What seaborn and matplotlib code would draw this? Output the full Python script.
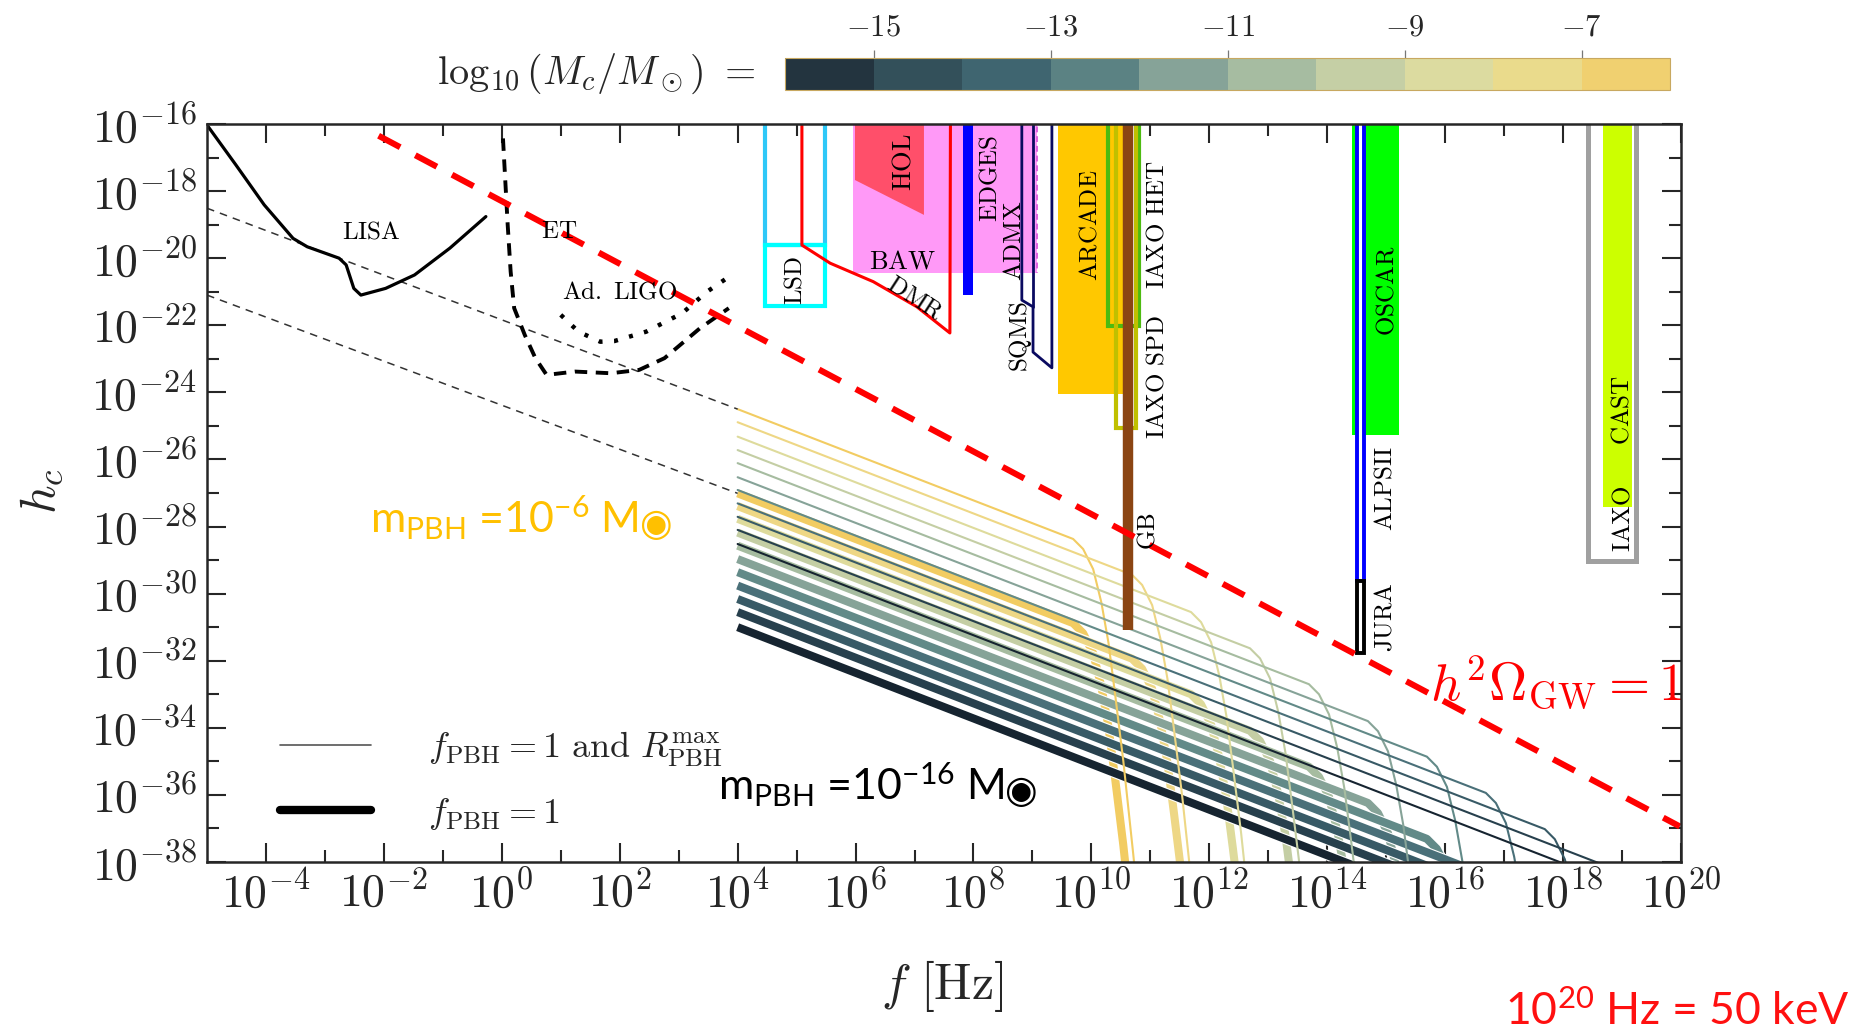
import numpy as np
import pandas as pd
import matplotlib
matplotlib.use("Agg")
import matplotlib.pyplot as plt
import matplotlib.patheffects as pe
import matplotlib.ticker as mticker
from matplotlib.patches import Polygon
from matplotlib.colors import ListedColormap, BoundaryNorm
from matplotlib.lines import Line2D
import seaborn as sns

# ---------------------------------------------------------------- data
# detector sensitivity curves, (log10 f [Hz], log10 h_c)
lisa_logf = [-5.0, -4.51, -4.03, -3.54, -3.30, -2.76, -2.64, -2.51, -2.39, -1.97, -1.48, -0.88, -0.27]
lisa_logh = [-16.03, -17.22, -18.41, -19.41, -19.66, -20.00, -20.20, -20.90, -21.10, -20.90, -20.50, -19.70, -18.76]

et_logf = [0.02, 0.06, 0.10, 0.15, 0.21, 0.39, 0.57, 0.76, 1.24, 1.85, 2.33, 2.76, 3.36, 3.85]
et_logh = [-16.43, -17.72, -19.01, -20.40, -21.49, -22.29, -22.98, -23.48, -23.38, -23.43, -23.33, -22.98, -22.09, -21.49]

ligo_logf = [1.00, 1.30, 1.67, 1.91, 2.45, 3.06, 3.48, 3.94]
ligo_logh = [-21.69, -22.19, -22.49, -22.47, -22.19, -21.64, -21.00, -20.45]

# low-frequency extension of the heaviest-mass spectra
ext_logf = [-5.0, 4.0]
ext_thin_logh = [-18.51, -24.50]
ext_thick_logh = [-21.10, -27.01]

# h^2 Omega_GW = 1
omega_logf = [-2.09, 19.98]
omega_logh = [-16.35, -36.94]

# PBH binary spectra, one per log10(m_PBH / M_sun)
log_mass = [-6, -7, -8, -9, -10, -11, -12, -13, -14, -15, -16]
start_logf = 4.0
thin_start_logh = [-24.50, -24.89, -25.32, -25.72, -26.11, -26.53, -26.91, -27.31, -27.71, -28.10, -28.52]
thick_start_logh = [-27.01, -27.39, -27.77, -28.18, -28.57, -28.97, -29.36, -29.76, -30.16, -30.55, -31.00]
knee_logf = [9.69, 10.69, 11.69, 12.69, 13.69, 14.69, 15.69, 16.69, 17.69, 18.69, 19.69]
thin_knee_logh = [-28.37, -29.44, -30.55, -31.63, -32.70, -33.80, -34.86, -35.94, -37.02, -38.09, -39.19]
thick_knee_logh = [-30.88, -31.94, -33.00, -34.09, -35.16, -36.24, -37.31, -38.39, -39.47, -40.54, -41.67]
# cutoff roll-off beyond the knee (offsets in decades)
cut_dlogf = [0.17, 0.34, 0.48, 0.60, 0.71, 0.85, 1.02, 1.25]
cut_dlogh = [-0.3, -0.9, -1.9, -3.1, -4.6, -6.6, -9.4, -13.5]

# colour bar
cbar_edges = [-16, -15, -14, -13, -12, -11, -10, -9, -8, -7, -6]
cbar_ticks = [-15, -13, -11, -9, -7]

# experimental regions (log10 f range, lower log10 h_c)
baw_f = [5.96, 7.62]; baw_h = -20.44
admx_f = [7.62, 9.08]; admx_h = -20.44
hol_f = [5.99, 7.16]; hol_h = [-17.67, -18.71]
edges_f = [7.82, 7.99]; edges_h = -21.10
arcade_f = [9.43, 10.54]; arcade_h = -24.05
oscar_f = [14.42, 15.22]; oscar_h = -25.27
cast_f = [18.68, 19.17]; cast_h = -27.42
lsd_f = [4.46, 5.48]; lsd_h = [-19.61, -21.42]
dmr_logf = [5.09, 5.09, 5.57, 6.30, 7.04, 7.60, 7.61]
dmr_logh = [-15.5, -19.61, -20.15, -20.70, -21.45, -22.23, -15.5]
sqms_logf = [8.82, 8.82, 9.01, 9.01, 9.33, 9.33]
sqms_logh = [-15.5, -21.25, -21.45, -22.80, -23.27, -15.5]
iaxo_het_f = [10.28, 10.81]; iaxo_het_h = -22.02
iaxo_spd_f = [10.42, 10.76]; iaxo_spd_h = -25.06
gb_f = 10.62; gb_h = -31.08
alps_f = [14.50, 14.63]; alps_h = -29.62; jura_h = -31.77
iaxo_f = [18.42, 19.24]; iaxo_h = -29.03

# ---------------------------------------------------------------- style
sns.set_style("ticks")
plt.rcParams.update({
    "font.family": ["DejaVu Serif", "DejaVu Sans"],
    "mathtext.fontset": "cm",
    "mathtext.rm": "Lato",
    "mathtext.it": "Lato:italic",
    "mathtext.bf": "Lato:bold",
    "mathtext.sf": "Lato",
    "axes.linewidth": 1.8,
})

mass_colors = ["#f2cc62", "#eed785", "#dedb9c", "#c4cea4", "#a6bca0", "#86a398",
               "#628a88", "#4a7079", "#385a66", "#27404d", "#162430"]
cbar_colors = ["#23343f", "#33505a", "#3f6570", "#5b8283", "#86a398",
               "#a6bca1", "#c5cfa5", "#dcdba0", "#eadb8c", "#f0d070"]

W, H = 1854, 1032
fig = plt.figure(figsize=(W / 100, H / 100), dpi=100)
ax = fig.add_axes([207 / W, 1 - 862 / H, 1474 / W, 738 / H])
ax.set_xscale("log")
ax.set_yscale("log")
ax.set_xlim(1e-5, 1e20)
ax.set_ylim(1e-38, 1e-16)


def p10(a):
    return np.power(10.0, np.asarray(a, dtype=float))


# ---------------------------------------------------------------- PBH spectra
mass_labels = [str(m) for m in log_mass]
palette = dict(zip(mass_labels, mass_colors))
rows = []
for kind, starts, knees_h in (("thick", thick_start_logh, thick_knee_logh),
                              ("thin", thin_start_logh, thin_knee_logh)):
    for lab, h0, fk, hk in zip(mass_labels, starts, knee_logf, knees_h):
        pts = [(start_logf, h0), (fk, hk)]
        pts += [(fk + df, hk + dh) for df, dh in zip(cut_dlogf, cut_dlogh)]
        for k, (lf, lh) in enumerate(pts):
            rows.append(dict(kind=kind, mass=lab, vertex=k, f=10 ** lf, hc=10 ** lh))
curves = pd.DataFrame(rows)

for kind, lw in (("thick", 5.8), ("thin", 1.5)):
    n0 = len(ax.lines)
    sns.lineplot(data=curves[curves.kind == kind], x="f", y="hc", hue="mass",
                 hue_order=mass_labels, palette=palette, estimator=None,
                 sort=False, lw=lw, legend=False, ax=ax, zorder=2)
    if kind == "thick":
        for ln in ax.lines[n0:]:
            ln.set_solid_capstyle("butt")
            ln.set_path_effects([pe.Stroke(linewidth=lw + 1.6, foreground="white"), pe.Normal()])

# ---------------------------------------------------------------- detector curves
lines_df = pd.DataFrame({"f": p10(lisa_logf), "hc": p10(lisa_logh)})
sns.lineplot(data=lines_df, x="f", y="hc", color="black", lw=2.3, sort=False,
             estimator=None, ax=ax, zorder=4)
sns.lineplot(x=p10(et_logf), y=p10(et_logh), color="black", lw=2.8, sort=False,
             estimator=None, ax=ax, zorder=4, linestyle=(0, (3.2, 2.2)))
sns.lineplot(x=p10(ligo_logf), y=p10(ligo_logh), color="black", lw=3.2, sort=False,
             estimator=None, ax=ax, zorder=4, linestyle=(0, (0.9, 2.6)))
for hh in (ext_thin_logh, ext_thick_logh):
    sns.lineplot(x=p10(ext_logf), y=p10(hh), color="#333333", lw=1.1, sort=False,
                 estimator=None, ax=ax, zorder=3, linestyle=(0, (5, 4)))

# ---------------------------------------------------------------- experimental regions
TOP = -15.5


def band(fr, h_lo, color, z=3):
    ax.add_patch(Polygon([(10 ** fr[0], 10 ** TOP), (10 ** fr[1], 10 ** TOP),
                          (10 ** fr[1], 10 ** h_lo), (10 ** fr[0], 10 ** h_lo)],
                         closed=True, facecolor=color, edgecolor="none", zorder=z))


def box(fr, h_lo, color, lw, h_hi=TOP, z=5, face="none"):
    ax.add_patch(Polygon([(10 ** fr[0], 10 ** h_hi), (10 ** fr[1], 10 ** h_hi),
                          (10 ** fr[1], 10 ** h_lo), (10 ** fr[0], 10 ** h_lo)],
                         closed=True, facecolor=face, edgecolor=color, lw=lw, zorder=z))


band(baw_f, baw_h, "#ff99f7")
band(admx_f, admx_h, "#ff99f7")
ax.plot([10 ** admx_f[1]] * 2, [10 ** TOP, 10 ** admx_h], color="#e060e0", lw=1.4,
        ls=(0, (3, 2)), zorder=3)
ax.add_patch(Polygon([(10 ** hol_f[0], 10 ** TOP), (10 ** hol_f[1], 10 ** TOP),
                      (10 ** hol_f[1], 10 ** hol_h[1]), (10 ** hol_f[0], 10 ** hol_h[0])],
                     closed=True, facecolor="#ff4f6a", edgecolor="none", zorder=3))
band(edges_f, edges_h, "#0000ff", z=4)
band(arcade_f, arcade_h, "#ffc800")
band(oscar_f, oscar_h, "#00ff00")
band(cast_f, cast_h, "#ccff00")

box(lsd_f, lsd_h[0], "#2ec8f8", 3.0)
box(lsd_f, lsd_h[1], "#00ffff", 3.0, h_hi=lsd_h[0])
ax.plot(p10(dmr_logf), p10(dmr_logh), color="#ff0000", lw=2.2, zorder=5)
ax.plot(p10(sqms_logf), p10(sqms_logh), color="#0a0a60", lw=2.0, zorder=5)
ax.plot([10 ** sqms_logf[2]] * 2, [10 ** TOP, 10 ** sqms_logh[2]], color="#0a0a60", lw=2.0, zorder=5)
box(iaxo_het_f, iaxo_het_h, "#4cbb10", 3.0)
box(iaxo_spd_f, iaxo_spd_h, "#c0c000", 3.0)
ax.plot([10 ** gb_f] * 2, [10 ** TOP, 10 ** gb_h], color="#8b4513", lw=7.5,
        solid_capstyle="butt", zorder=6)
box(alps_f, alps_h, "#0000ff", 2.8, face="white")
box(alps_f, jura_h, "black", 2.8, h_hi=alps_h, face="white")
box(iaxo_f, iaxo_h, "#a0a0a0", 3.6)

# h^2 Omega_GW = 1 line
sns.lineplot(x=p10(omega_logf), y=p10(omega_logh), color="#ff0000", lw=4.4,
             sort=False, estimator=None, ax=ax, zorder=8, linestyle=(0, (4.0, 2.8)))

# ---------------------------------------------------------------- labels
def lab(logf, logh, s, rot=90, size=18, color="black"):
    ax.text(10 ** logf, 10 ** logh, s, rotation=rot, size=size, color=color,
            ha="center", va="center", zorder=9, rotation_mode="anchor")


lab(-2.21, -19.21, r"$\mathrm{LISA}$", rot=0)
lab(0.98, -19.21, r"$\mathrm{ET}$", rot=0)
lab(2.00, -21.00, r"$\mathrm{Ad.\ LIGO}$", rot=0)
lab(4.97, -20.65, r"$\mathrm{LSD}$")
lab(6.80, -17.13, r"$\mathrm{HOL}$", size=19)
lab(6.79, -20.08, r"$\mathrm{BAW}$", rot=0, size=19)
lab(7.01, -21.19, r"$\mathrm{DMR}$", rot=-33)
lab(8.28, -17.61, r"$\mathrm{EDGES}$")
lab(8.69, -19.46, r"$\mathrm{ADMX}$")
lab(8.79, -22.35, r"$\mathrm{SQMS}$")
lab(9.98, -19.01, r"$\mathrm{ARCADE}$")
lab(11.11, -19.01, r"$\mathrm{IAXO\ HET}$")
lab(11.11, -23.54, r"$\mathrm{IAXO\ SPD}$")
lab(10.96, -28.13, r"$\mathrm{GB}$")
lab(15.01, -20.98, r"$\mathrm{OSCAR}$")
lab(14.98, -26.88, r"$\mathrm{ALPSII}$")
lab(14.98, -30.69, r"$\mathrm{JURA}$")
lab(19.00, -24.52, r"$\mathrm{CAST}$")
lab(19.02, -27.77, r"$\mathrm{IAXO}$")
lab(17.88, -32.62, r"$h^2\Omega_{\rm GW} = 1$", rot=0, size=38, color="#ff0000")

# mass annotations
t1 = ax.text(0.1106, 0.4458, r"m$_{\mathrm{PBH}}$ =10$^{\mathrm{-6}}$ M",
             transform=ax.transAxes, size=31, color="#ffc000", family="Lato",
             math_fontfamily="custom", va="baseline", ha="left", zorder=9)
ax.annotate("\u25c9", xy=(1, 0), xycoords=t1, xytext=(1, -1), textcoords="offset points",
            size=27, color="#ffc000", family="DejaVu Sans", va="bottom", ha="left")
t2 = ax.text(0.3466, 0.0840, r"m$_{\mathrm{PBH}}$ =10$^{\mathrm{-16}}$ M",
             transform=ax.transAxes, size=31, color="black", family="Lato",
             math_fontfamily="custom", va="baseline", ha="left", zorder=9)
ax.annotate("\u25c9", xy=(1, 0), xycoords=t2, xytext=(1, -1), textcoords="offset points",
            size=27, color="black", family="DejaVu Sans", va="bottom", ha="left")

fig.text(1505 / W, 7 / H, r"10$^{\mathrm{20}}$ Hz = 50 keV", family="Lato",
         size=32, color="#ff1010", math_fontfamily="custom", va="baseline", ha="left")

# legend
handles = [Line2D([], [], color="#555555", lw=1.2), Line2D([], [], color="black", lw=6)]
labels = [r"$f_{\rm PBH} = 1\ {\rm and}\ R^{\rm max}_{\rm PBH}$", r"$f_{\rm PBH} = 1$"]
ax.legend(handles, labels, loc="lower left", bbox_to_anchor=(0.04, 0.021), frameon=False,
          fontsize=26, handlelength=2.5, handletextpad=1.6, labelspacing=0.75, borderaxespad=0)

# ---------------------------------------------------------------- axes
fmt = mticker.FuncFormatter(lambda v, p: r"$10^{%d}$" % int(round(np.log10(v))))
ax.xaxis.set_major_locator(mticker.FixedLocator(p10(np.arange(-4, 21, 2))))
ax.xaxis.set_minor_locator(mticker.FixedLocator(p10(np.arange(-3, 20, 2))))
ax.yaxis.set_major_locator(mticker.FixedLocator(p10(np.arange(-38, -15, 2))))
ax.yaxis.set_minor_locator(mticker.FixedLocator(p10(np.arange(-37, -16, 2))))
ax.xaxis.set_major_formatter(fmt)
ax.yaxis.set_major_formatter(fmt)
ax.xaxis.set_minor_formatter(mticker.NullFormatter())
ax.yaxis.set_minor_formatter(mticker.NullFormatter())
ax.tick_params(which="major", direction="in", length=13.5, width=1.5, top=True, right=True,
               labelsize=33, pad=7)
ax.tick_params(which="minor", direction="in", length=8.5, width=1.5, top=True, right=True)
for s in ax.spines.values():
    s.set_linewidth(1.8)
    s.set_zorder(10)

ax.set_xlabel(r"$f\ [{\rm Hz}]$", size=36)
ax.set_ylabel(r"$h_c$", size=36)
ax.xaxis.set_label_coords(0.4986, -0.13)
ax.yaxis.set_label_coords(-0.096, 0.503)

# ---------------------------------------------------------------- colour bar
cax = fig.add_axes([785 / W, 1 - 90 / H, 885 / W, 32 / H])
sm = plt.cm.ScalarMappable(norm=BoundaryNorm(cbar_edges, len(cbar_colors)),
                           cmap=ListedColormap(cbar_colors))
cb = fig.colorbar(sm, cax=cax, orientation="horizontal", ticks=cbar_ticks)
cax.xaxis.set_ticks_position("top")
cb.set_ticklabels([r"$%d$" % t for t in cbar_ticks])
cax.tick_params(axis="x", direction="out", length=6, width=0.9, labelsize=22, pad=5,
                color="#777777")
cax.minorticks_off()
cb.outline.set_edgecolor("#c8a860")
cb.outline.set_linewidth(0.8)
fig.text(755 / W, 1 - 74 / H, r"$\log_{10}(M_c/M_\odot)\ =$", size=29, ha="right", va="center")

fig.savefig("out.png", dpi=100)
